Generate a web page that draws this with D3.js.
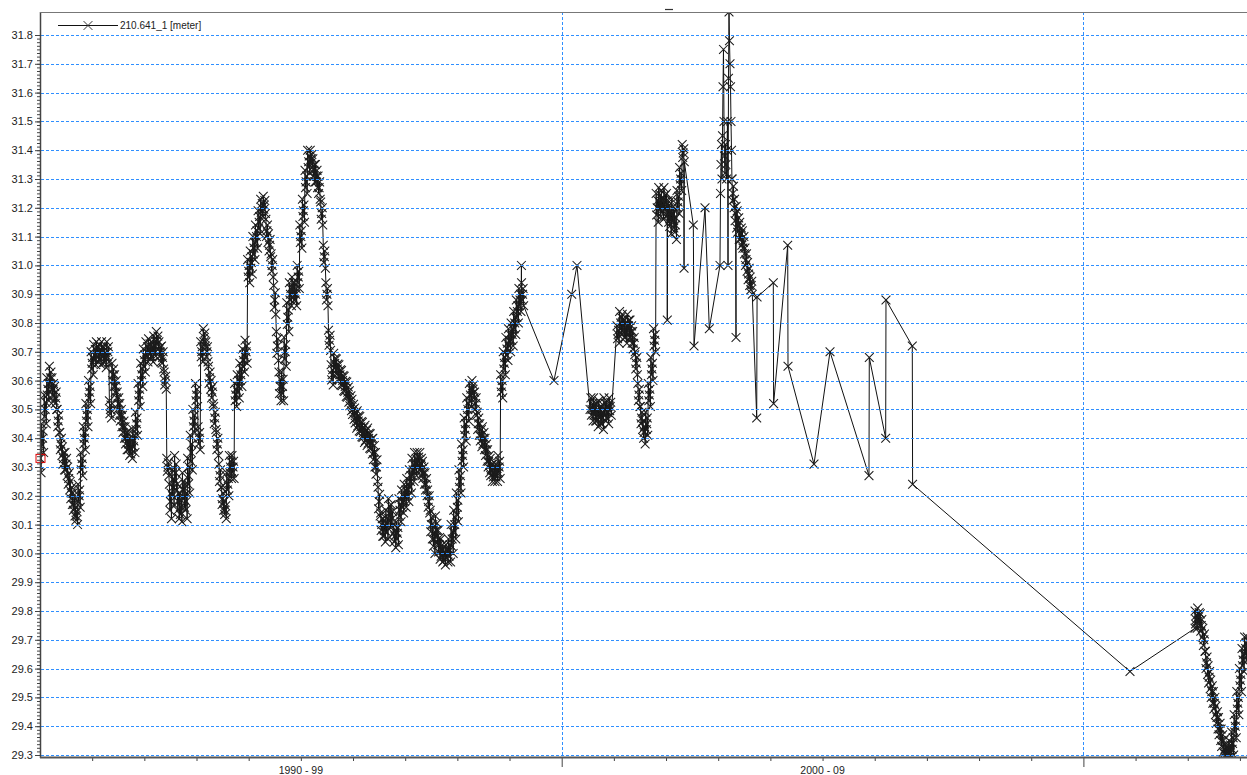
<!DOCTYPE html>
<html><head><meta charset="utf-8">
<script src="https://cdn.jsdelivr.net/npm/d3@7"></script>
<style>
html,body{margin:0;padding:0;background:#fff;}
svg{display:block;font-family:"Liberation Sans",Arial,sans-serif;}
</style></head>
<body>
<svg id="chart" width="1247" height="775"></svg>
<script>
// ---------- data ----------
const seriesName = "210.641_1 [meter]";
const decadeLabels = ["1990 - 99", "2000 - 09"];
const decadeCenters = [1995, 2005];
const yTickValues = [29.3,29.4,29.5,29.6,29.7,29.8,29.9,30.0,30.1,30.2,30.3,30.4,30.5,30.6,30.7,30.8,30.9,31.0,31.1,31.2,31.3,31.4,31.5,31.6,31.7,31.8];

// dense, regularly sampled segments: start year, step (years), centre values,
// and the half-width of the scatter band read at each sample
const seg1Start = 1990.0, seg1Step = 0.05;
const seg1Values = [
 30.33,30.40,30.50,30.57,30.61,30.57,30.54,30.46,30.38,30.33,
 30.31,30.26,30.21,30.17,30.13,30.20,30.31,30.40,30.48,30.56,
 30.66,30.69,30.70,30.69,30.70,30.68,30.70,30.50,30.62,30.58,
 30.52,30.48,30.44,30.40,30.38,30.36,30.39,30.45,30.55,30.62,
 30.67,30.70,30.71,30.70,30.72,30.74,30.70,30.68,30.60,30.30,
 30.18,30.23,30.28,30.18,30.16,30.22,30.18,30.27,30.35,30.46,
 30.55,30.40,30.70,30.75,30.70,30.61,30.56,30.47,30.38,30.27,
 30.19,30.15,30.24,30.30,30.30,30.55,30.58,30.62,30.67,30.70,
 30.98,31.01,31.06,31.10,31.15,31.20,31.21,31.12,31.07,31.00,
 30.88,30.72,30.58,30.58,30.70,30.82,30.90,30.92,30.90,30.96,
 31.10,31.19,31.29,31.36,31.37,31.33,31.31,31.27,31.18,31.03,
 30.90,30.74,30.62,30.66,30.64,30.62,30.60,30.58,30.56,30.53,
 30.50,30.47,30.46,30.44,30.42,30.41,30.40,30.38,30.35,30.30,
 30.18,30.10,30.08,30.10,30.14,30.12,30.06,30.07,30.15,30.18,
 30.20,30.22,30.25,30.29,30.31,30.32,30.31,30.28,30.24,30.18,
 30.10,30.05,30.08,30.03,30.01,29.99,30.00,30.01,30.05,30.10,
 30.16,30.25,30.34,30.43,30.50,30.55,30.57,30.52,30.45,30.41,
 30.40,30.36,30.32,30.29,30.28,30.28,30.30,30.58,30.66,30.71,
 30.74,30.76,30.80,30.84,30.88,30.90];
const seg1Spread = [
 .05,.05,.05,.04,.04,.04,.04,.04,.04,.04,
 .04,.04,.04,.04,.03,.04,.04,.04,.04,.04,
 .04,.035,.035,.035,.035,.035,.035,.03,.04,.04,
 .04,.04,.04,.04,.04,.03,.04,.04,.04,.04,
 .04,.035,.035,.035,.035,.03,.035,.04,.03,.03,
 .06,.06,.06,.06,.05,.06,.06,.06,.06,.04,
 .04,.04,.035,.03,.035,.04,.04,.04,.04,.04,
 .04,.03,.04,.04,.04,.04,.04,.04,.04,.04,
 .04,.04,.04,.04,.04,.03,.03,.04,.04,.04,
 .05,.05,.05,.05,.05,.05,.04,.04,.04,.04,
 .04,.04,.04,.04,.03,.04,.04,.04,.04,.04,
 .04,.035,.035,.035,.035,.035,.035,.035,.035,.035,
 .035,.035,.035,.035,.035,.035,.035,.035,.05,.05,
 .05,.04,.04,.05,.05,.05,.04,.04,.04,.04,
 .04,.04,.04,.04,.04,.03,.04,.04,.04,.04,
 .05,.05,.05,.05,.04,.03,.03,.04,.05,.05,
 .05,.04,.04,.04,.04,.04,.03,.04,.04,.04,
 .04,.04,.04,.04,.03,.03,.04,.04,.04,.04,
 .04,.04,.04,.04,.04,.04];
const seg2Start = 2000.58, seg2Step = 0.05;
const seg2Values = [30.50,30.50,30.48,30.49,30.47,30.50,30.49,30.51];
const seg2Spread = [.04,.04,.04,.04,.04,.04,.04,.03];
const seg3Start = 2001.08, seg3Step = 0.05;
const seg3Values = [30.76,30.80,30.79,30.77,30.79,30.77,30.73,30.66,30.55,30.47,
 30.42,30.45,30.55,30.64,30.74,31.20,31.22,31.21,31.22,31.20,31.16,31.18,31.14,31.22,31.30,31.39];
const seg3Spread = [.03,.04,.04,.04,.04,.04,.04,.04,.04,.04,
 .04,.04,.04,.04,.04,.05,.05,.05,.05,.05,.05,.05,.05,.04,.04,.03];
const seg4Start = 2003.283, seg4Step = 0.05;
const seg4Values = [31.25,31.18,31.14,31.11,31.08,31.02,30.97,30.93];
const seg4Spread = [.05,.05,.05,.04,.04,.04,.04,.03];
const seg5Start = 2012.16, seg5Step = 0.05;
const seg5Values = [29.77,29.78,29.75,29.70,29.62,29.57,29.52,29.48,29.43,29.39,
 29.35,29.32,29.31,29.32,29.34,29.40,29.48,29.56,29.63,29.67,29.68];
const seg5Spread = [.03,.03,.04,.04,.04,.04,.04,.04,.04,.04,
 .04,.03,.02,.03,.04,.04,.04,.04,.04,.04,.03];

// irregular readings
const sparseTimes = [1999.228,1999.852,2000.192,2000.293,2000.543,2002.024,
 2002.345,2002.523,2002.536,2002.747,2002.829,2003.034,
 2003.044,2003.053,2003.063,2003.072,2003.082,2003.092,2003.101,2003.111,2003.120,2003.130,
 2003.139,2003.149,2003.159,2003.168,2003.178,2003.188,2003.197,2003.207,2003.216,2003.226,
 2003.236,2003.245,2003.255,2003.264,2003.341,
 2003.738,2003.745,2004.056,2004.062,2004.332,2004.338,2004.836,2005.143,2005.890,2005.896,
 2006.210,2006.216,2006.720,2006.726,2010.893,2012.139];
const sparseValues = [31.00,30.60,30.90,31.00,30.50,30.81,
 30.99,31.14,30.72,31.20,30.78,31.00,
 31.25,31.35,31.42,31.30,31.45,31.62,31.75,31.50,31.38,31.32,
 31.42,31.35,31.30,31.40,31.50,31.00,31.65,31.88,31.78,31.70,
 31.62,31.50,31.40,31.30,30.75,
 30.47,30.89,30.94,30.52,31.07,30.65,30.31,30.70,30.27,30.68,
 30.40,30.88,30.72,30.24,29.59,29.74];

// ---------- build ----------
const subOffsets = [[-0.4, 1], [-0.2, -0.5], [0, 0], [0.2, 0.5], [0.4, -1]];
function seg(start, step, vals, spread){
  const out = [];
  vals.forEach((v,i)=>{
    const t = start + i*step, s = spread[i];
    subOffsets.forEach(([dt, dv])=>out.push({t: t + dt*step, v: v + dv*s}));
  });
  return out;
}
const data = [].concat(
  seg(seg1Start, seg1Step, seg1Values, seg1Spread),
  seg(seg2Start, seg2Step, seg2Values, seg2Spread),
  seg(seg3Start, seg3Step, seg3Values, seg3Spread),
  seg(seg4Start, seg4Step, seg4Values, seg4Spread),
  seg(seg5Start, seg5Step, seg5Values, seg5Spread),
  sparseTimes.map((t,i)=>({t, v:sparseValues[i]}))
).sort((a,b)=>a.t-b.t);

const W = 1247, H = 775;
const pL = 40, pT = 12, pB = 757, pR = 1247;
const x = d3.scaleLinear().domain([1990, 2010]).range([40, 1083.4]);
const y = d3.scaleLinear().domain([29.3, 31.8]).range([755, 35]);

const svg = d3.select("#chart");
svg.append("rect").attr("width", W).attr("height", H).attr("fill", "#fff");

const defs = svg.append("defs");
defs.append("clipPath").attr("id","clip").append("rect")
  .attr("x", pL).attr("y", pT).attr("width", pR-pL).attr("height", pB-pT);

const plot = svg.append("g").attr("clip-path","url(#clip)");

plot.append("path").datum(data)
  .attr("fill","none").attr("stroke","#111").attr("stroke-width",1)
  .attr("d", d3.line().x(d=>x(d.t)).y(d=>y(d.v)));

const m = 4.4;
plot.append("g").selectAll("path").data(data).join("path")
  .attr("d", d=>{const cx=x(d.t), cy=y(d.v);
    return `M${cx-m},${cy-m}L${cx+m},${cy+m}M${cx-m},${cy+m}L${cx+m},${cy-m}`;})
  .attr("stroke","#1c1c1c").attr("stroke-width",1.05).attr("fill","none");

const grid = svg.append("g").attr("clip-path","url(#clip)");
grid.selectAll("line.h").data(yTickValues).join("line")
  .attr("x1", pL+1).attr("x2", pR)
  .attr("y1", d=>Math.round(y(d))+0.5).attr("y2", d=>Math.round(y(d))+0.5)
  .attr("stroke","#2f8fff").attr("stroke-width",1).attr("stroke-dasharray","3,2");
grid.selectAll("line.v").data([2000,2010]).join("line")
  .attr("x1", d=>Math.round(x(d))+0.5).attr("x2", d=>Math.round(x(d))+0.5)
  .attr("y1", pT).attr("y2", pB)
  .attr("stroke","#2f8fff").attr("stroke-width",1).attr("stroke-dasharray","3,2");

// red marker square on first reading
svg.append("rect").attr("x", x(seg1Start)-4).attr("y", y(seg1Values[0])-4)
  .attr("width",9).attr("height",8).attr("fill","none").attr("stroke","#e00000").attr("stroke-width",1);

const axisColor = "#444";
const yMinor = d3.range(0, 201).map(i=>29.3 + i*0.0125).filter(v=>v<=31.88);
const gyMinor = svg.append("g").attr("transform",`translate(${pL},0)`)
  .call(d3.axisLeft(y).tickValues(yMinor).tickSize(3).tickFormat(""));
const gy = svg.append("g").attr("transform",`translate(${pL},0)`)
  .call(d3.axisLeft(y).tickValues(yTickValues).tickSize(5).tickPadding(2).tickFormat(d3.format(".1f")));
[gyMinor, gy].forEach(g=>{
  g.select(".domain").remove();
  g.selectAll("line").attr("stroke",axisColor);
});
gy.selectAll("text").attr("fill","#222").style("font-size","11px").style("font-family","'Liberation Sans',Arial,sans-serif");

const xMinor = d3.range(1991, 2014).filter(v=>v%10!==0);
const gxMinor = svg.append("g").attr("transform",`translate(0,${pB})`)
  .call(d3.axisBottom(x).tickValues(xMinor).tickSize(4).tickFormat(""));
const gxMajor = svg.append("g").attr("transform",`translate(0,${pB})`)
  .call(d3.axisBottom(x).tickValues([2000, 2010]).tickSize(10).tickFormat(""));
[gxMinor, gxMajor].forEach(g=>{
  g.select(".domain").remove();
  g.selectAll("line").attr("stroke",axisColor);
});
svg.append("g").selectAll("text").data(decadeLabels).join("text")
  .attr("x",(d,i)=>x(decadeCenters[i])).attr("y",774)
  .attr("text-anchor","middle").attr("fill","#222")
  .style("font-size","10.5px").text(d=>d);

svg.append("line").attr("x1",pL+0.5).attr("x2",pL+0.5).attr("y1",pT).attr("y2",pB+1)
  .attr("stroke",axisColor).attr("stroke-width",1.5);
svg.append("line").attr("x1",pL).attr("x2",pR).attr("y1",pB+0.5).attr("y2",pB+0.5)
  .attr("stroke","#555").attr("stroke-width",2);
svg.append("line").attr("x1",pL).attr("x2",pR).attr("y1",pT+0.5).attr("y2",pT+0.5)
  .attr("stroke","#777").attr("stroke-width",1);

svg.append("line").attr("x1",665).attr("x2",673).attr("y1",9.5).attr("y2",9.5)
  .attr("stroke","#333").attr("stroke-width",1.2);

const lg = svg.append("g");
lg.append("line").attr("x1",58).attr("x2",118).attr("y1",25.5).attr("y2",25.5).attr("stroke","#111");
lg.append("path").attr("d",`M${88-m},${25.5-m}L${88+m},${25.5+m}M${88-m},${25.5+m}L${88+m},${25.5-m}`)
  .attr("stroke","#333").attr("fill","none");
lg.append("text").attr("x",120).attr("y",29).attr("fill","#222").style("font-size","10px").text(seriesName);
</script>
</body></html>
